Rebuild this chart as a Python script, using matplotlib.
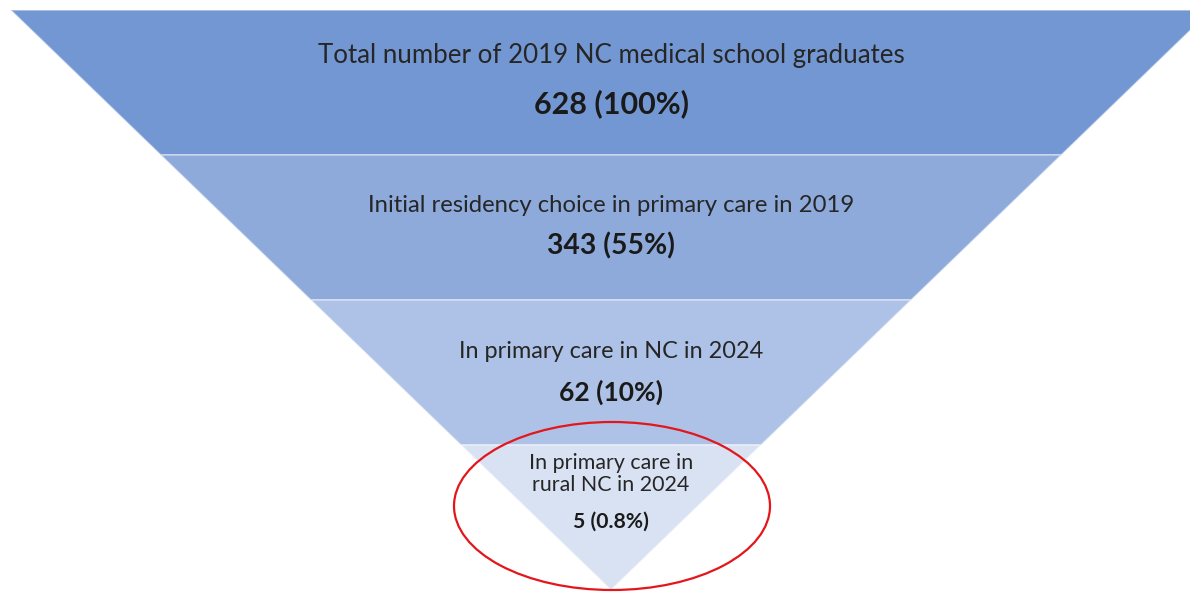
import matplotlib
matplotlib.use('Agg')
import matplotlib.pyplot as plt
from matplotlib.patches import Polygon, Ellipse

# Données de l'entonnoir
labels = [
    'Total number of 2019 NC medical school graduates',
    'Initial residency choice in primary care in 2019',
    'In primary care in NC in 2024',
    'In primary care in\nrural NC in 2024',
]
counts = [628, 343, 62, 5]
percents = ['100%', '55%', '10%', '0.8%']

colors = ['#7397d3', '#8eaadb', '#adc2e6', '#d9e2f3']
label_sizes = [18.6, 17.2, 16.9, 15.4]
value_sizes = [22, 20.3, 19, 15.2]

W, H = 1190, 592
fig = plt.figure(figsize=(W / 100, H / 100), dpi=100)
ax = fig.add_axes([0, 0, 1, 1])
ax.set_xlim(0, W)
ax.set_ylim(H, 0)
ax.axis('off')

plt.rcParams['font.family'] = ['Lato', 'DejaVu Sans']

# Géométrie : triangle inversé, bandes de même hauteur
cx, top, apex = 611, 10, 590
slope = 1.035
band_h = (apex - top) / len(labels)

def half_width(y):
    return (apex - y) * slope

for i in range(len(labels)):
    y0 = top + i * band_h
    y1 = y0 + band_h
    if i < len(labels) - 1:
        pts = [(cx - half_width(y0), y0), (cx + half_width(y0), y0),
               (cx + half_width(y1), y1), (cx - half_width(y1), y1)]
    else:
        pts = [(cx - half_width(y0), y0), (cx + half_width(y0), y0), (cx, y1)]
    ax.add_patch(Polygon(pts, closed=True, facecolor=colors[i],
                         edgecolor=(1, 1, 1, 0.45), linewidth=1.2))

# Textes
label_y = [56, 205, 352, 474]
value_y = [104, 246, 392, 522]
for i, lab in enumerate(labels):
    ax.text(cx, label_y[i], lab, ha='center', va='center', fontsize=label_sizes[i],
            color='#262626', linespacing=1.12)
    ax.text(cx, value_y[i], f'{counts[i]} ({percents[i]})', ha='center', va='center',
            fontsize=value_sizes[i], fontweight='bold', color='#1a1a1a')

# Ellipse rouge autour du dernier segment
ax.add_patch(Ellipse((612, 506), 316, 168, fill=False, edgecolor='#e3161b', linewidth=1.6))

fig.savefig('out.png', dpi=100)
